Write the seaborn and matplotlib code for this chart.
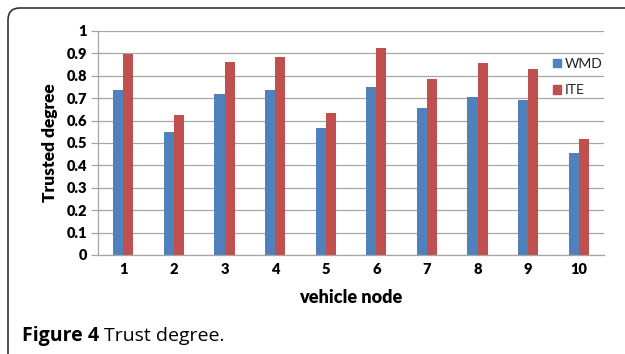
import matplotlib
matplotlib.use("Agg")
import matplotlib.pyplot as plt
import matplotlib.patches as mpatches
from matplotlib.transforms import IdentityTransform
import seaborn as sns
import pandas as pd

nodes = ["1", "2", "3", "4", "5", "6", "7", "8", "9", "10"]
wmd = [0.735, 0.549, 0.717, 0.735, 0.565, 0.749, 0.655, 0.707, 0.690, 0.455]
ite = [0.899, 0.626, 0.862, 0.885, 0.632, 0.926, 0.784, 0.856, 0.832, 0.519]
series = ["WMD", "ITE"]
colors = ["#4F81BD", "#C0504D"]
yticks = [0, 0.1, 0.2, 0.3, 0.4, 0.5, 0.6, 0.7, 0.8, 0.9, 1]
ytick_labels = ["0", "0.1", "0.2", "0.3", "0.4", "0.5", "0.6", "0.7", "0.8", "0.9", "1"]

df = pd.DataFrame({
    "node": nodes * 2,
    "value": wmd + ite,
    "series": [series[0]] * len(nodes) + [series[1]] * len(nodes),
})

sns.set_theme(style="white")
plt.rcParams["font.family"] = ["Lato", "DejaVu Sans"]

W, H = 625, 354
fig = plt.figure(figsize=(W / 100, H / 100), dpi=100)
ax = fig.add_axes([98 / W, 1 - 255 / H, (604 - 98) / W, (255 - 31) / H])

sns.barplot(data=df, x="node", y="value", hue="series", order=nodes,
            hue_order=series, palette=colors, width=0.4, gap=0,
            saturation=1, ax=ax, legend=False, edgecolor="none", linewidth=0)

ax.set_ylim(0, 1)
ax.set_xlim(-0.5, len(nodes) - 0.5)
ax.set_yticks(yticks)
ax.set_yticklabels(ytick_labels)
ax.yaxis.grid(True, color="#A6A6A6", linewidth=0.9)
ax.set_axisbelow(True)
for s in ["top", "right"]:
    ax.spines[s].set_visible(False)
ax.spines["left"].set_color("#A6A6A6")
ax.spines["bottom"].set_color("#A6A6A6")
ax.spines["left"].set_linewidth(0.9)
ax.spines["bottom"].set_linewidth(0.9)
ax.tick_params(axis="y", left=True, length=5, width=0.9, color="#A6A6A6",
               pad=3, labelsize=10.5)
ax.tick_params(axis="x", bottom=False, length=0, pad=6, labelsize=10.5)
for lab in ax.get_xticklabels() + ax.get_yticklabels():
    lab.set_fontweight("heavy")
    lab.set_color("black")

ax.set_xlabel("vehicle node", fontsize=13, fontweight="heavy", labelpad=9, color="black")
ax.set_ylabel("Trusted degree", fontsize=12.5, fontweight="heavy", labelpad=6, color="black")

handles = [mpatches.Patch(color=c, label=s) for c, s in zip(colors, series)]
leg = ax.legend(handles=handles, loc="upper left", bbox_to_anchor=(0.888, 0.905),
                frameon=False, fontsize=10, handlelength=0.55, handleheight=0.55,
                handletextpad=0.3, labelspacing=1.05, borderaxespad=0)
for t in leg.get_texts():
    t.set_color("#222222")

cap_y = 1 - 341 / H
t1 = fig.text(22 / W, cap_y, "Figure 4", fontsize=14, fontweight="bold",
              family=["Open Sans", "DejaVu Sans"], va="baseline", ha="left", color="black")
fig.canvas.draw()
bb = t1.get_window_extent(renderer=fig.canvas.get_renderer())
fig.text((bb.x1 + 5) / W, cap_y, "Trust degree.", fontsize=14, fontweight="medium",
         family=["Open Sans", "DejaVu Sans"], va="baseline", ha="left", color="black")

frame = mpatches.FancyBboxPatch((8, -30), 800, H - 8 + 30,
                                boxstyle="round,pad=0,rounding_size=12",
                                transform=IdentityTransform(), fill=False,
                                edgecolor="#333333", linewidth=1.2)
fig.patches.append(frame)

fig.savefig("out.png", dpi=100)
